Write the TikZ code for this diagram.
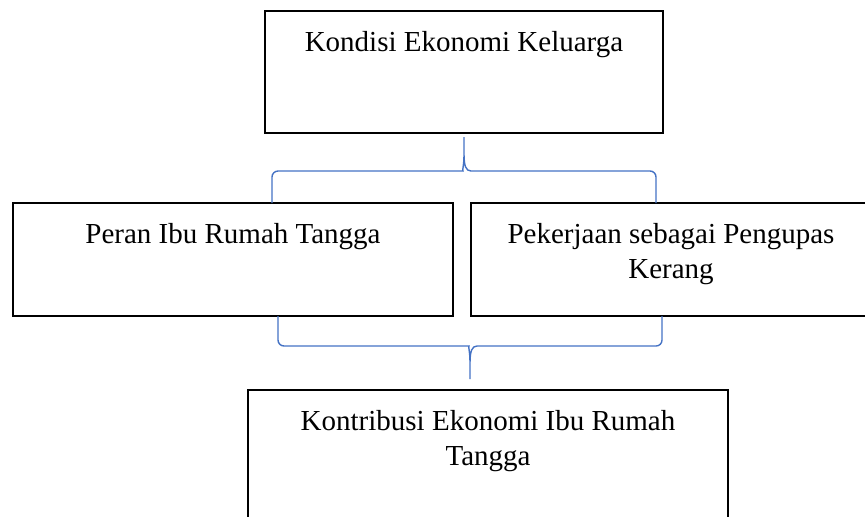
\documentclass[tikz,border=0pt]{standalone}
\usepackage{fontspec}
\setmainfont{Liberation Serif}
\usetikzlibrary{positioning}
\definecolor{braceblue}{RGB}{68,114,196}
\tikzset{
  box/.style={draw=black, line width=0.6pt, inner sep=0pt},
  txt/.style={inner sep=0pt, align=center, font=\fontsize{14.5pt}{17.5pt}\selectfont},
  brace/.style={draw=braceblue, line width=0.7pt}
}
\begin{document}
\begin{tikzpicture}[x=0.5pt, y=-0.5pt]
\useasboundingbox (0,0) rectangle (865,516);
\clip (0,0) rectangle (865,516);
% boxes
\node[box, minimum width=199pt, minimum height=61pt] (kondisi) at (464,72) {};
\node[box, minimum width=220pt, minimum height=56.5pt] (peran) at (233,259.5) {};
\node[box, minimum width=200pt, minimum height=56.5pt] (pekerjaan) at (671,259.5) {};
\node[box, minimum width=240pt, minimum height=75pt] (kontribusi) at (488,465) {};
% texts
\node[txt, below=10.5pt of kondisi.north] (tkondisi) {Kondisi Ekonomi Keluarga};
\node[txt, below=10.5pt of peran.north] (tperan) {Peran Ibu Rumah Tangga};
\node[txt, below=10.5pt of pekerjaan.north] (tpekerjaan) {Pekerjaan sebagai Pengupas\\ Kerang};
\node[txt, below=10.5pt of kontribusi.north] (tkontribusi) {Kontribusi Ekonomi Ibu Rumah\\ Tangga};
% braces
\coordinate (b1l) at (272,203);
\coordinate (b1r) at (656,203);
\coordinate (b1t) at (464,137);
\coordinate (b2l) at (278,316);
\coordinate (b2r) at (662,316);
\coordinate (b2t) at (470,379);
\draw[brace] (b1l) [rounded corners=3pt] |- (457,171) [sharp corners] .. controls (462,171) and (464,166) .. (464,154) -- (b1t) -- (464,154) .. controls (464,166) and (466,171) .. (471,171) [rounded corners=3pt] -| (b1r);
\draw[brace] (b2l) [rounded corners=3pt] |- (463,346) [sharp corners] .. controls (468,346) and (470,351) .. (470,363) -- (b2t) -- (470,363) .. controls (470,351) and (472,346) .. (477,346) [rounded corners=3pt] -| (b2r);
\end{tikzpicture}
\end{document}
